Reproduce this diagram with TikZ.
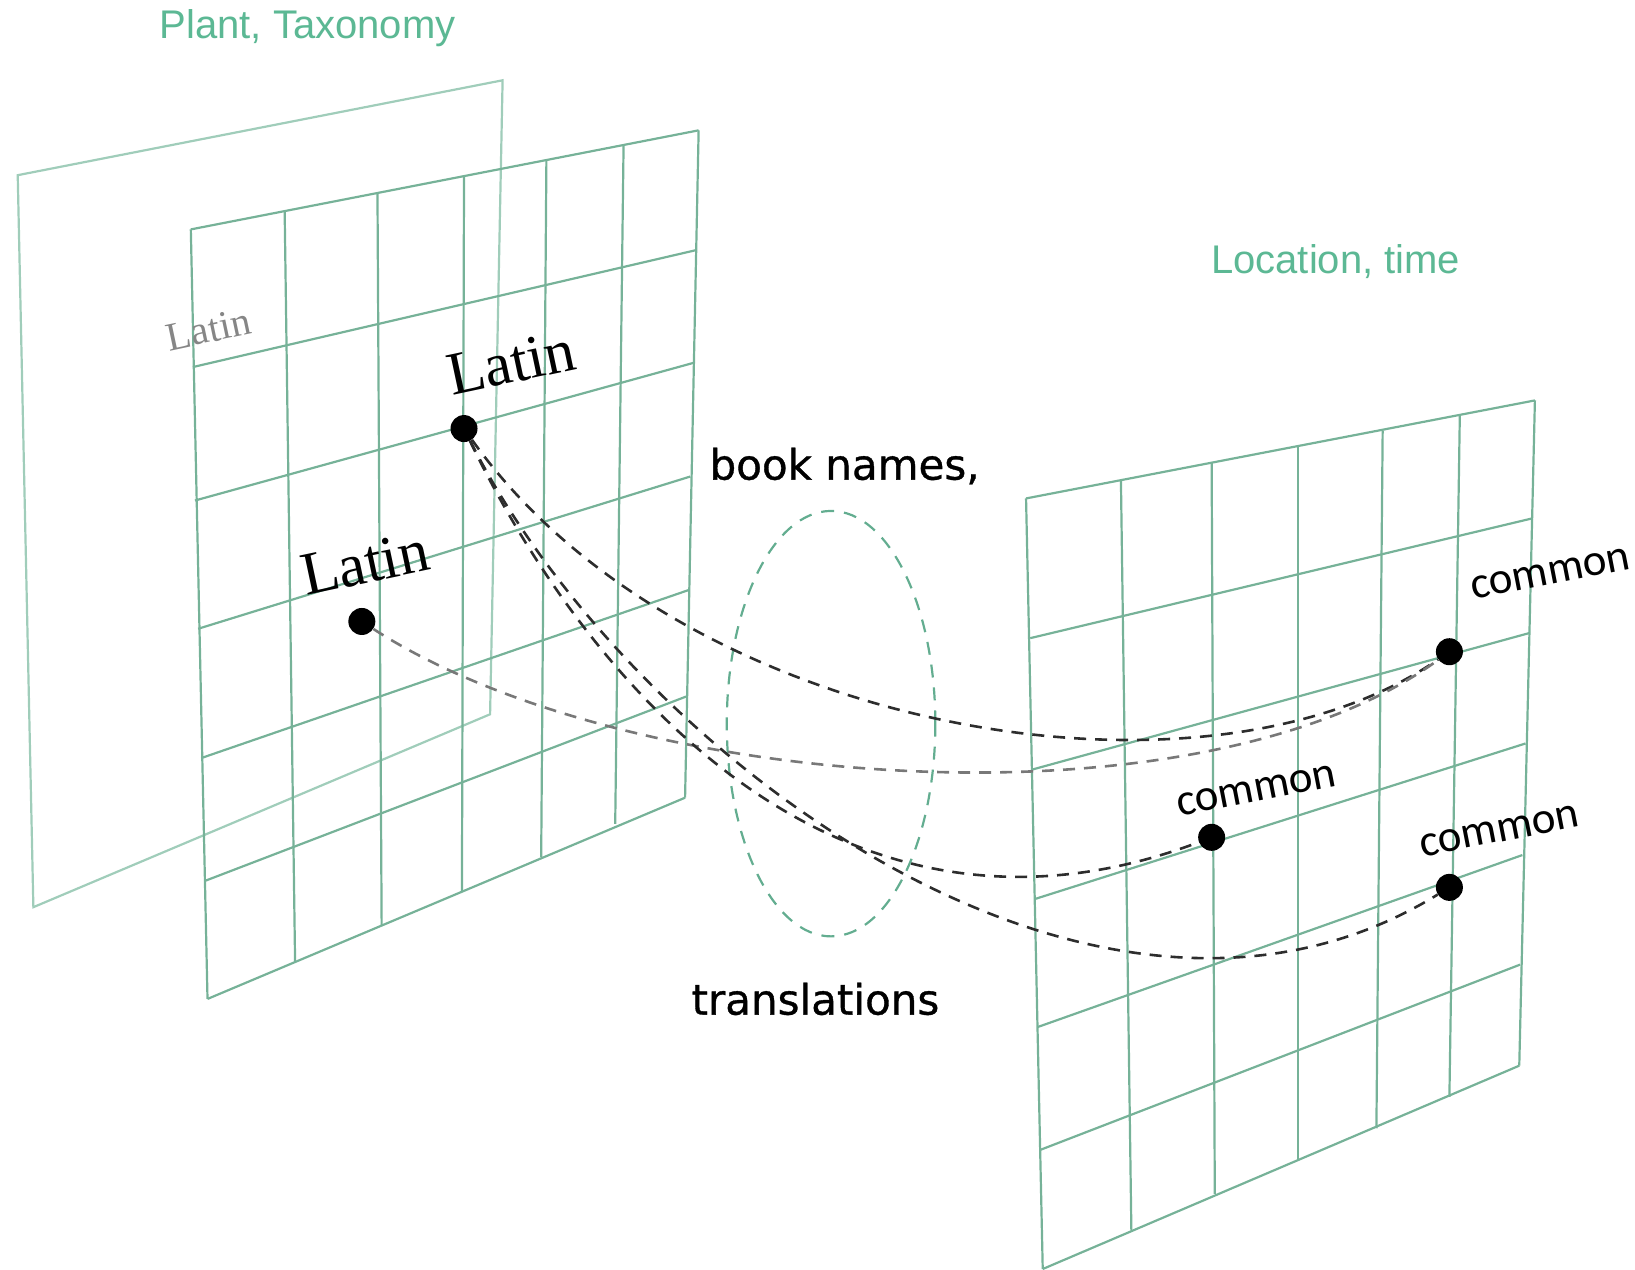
\documentclass[tikz,border=0pt]{standalone}
\usepackage{fontspec}
\setmainfont{Liberation Serif}
\newfontfamily\titlefont{Liberation Sans}
\newfontfamily\bookfont[FakeBold=0.8]{DejaVu Sans}
\newfontfamily\commonfont{Carlito}
\definecolor{gridgreen}{RGB}{118,178,152}
\definecolor{backgreen}{RGB}{160,205,186}
\definecolor{titlegreen}{RGB}{92,184,148}
\definecolor{curvegray}{RGB}{45,45,45}
\definecolor{palegray}{RGB}{120,120,120}
\begin{document}
\begin{tikzpicture}[x=1.0427pt, y=-1.0427pt,
    gridline/.style={draw=gridgreen,line width=2.2pt},
    backline/.style={draw=backgreen,line width=2.2pt},
    dot/.style={circle,fill=black,inner sep=0pt,minimum size=27pt},
    link/.style={draw=curvegray,line width=2.6pt,dash pattern=on 12pt off 9pt},
    palelink/.style={draw=palegray,line width=2.6pt,dash pattern=on 12pt off 9pt},
    title/.style={text=titlegreen,font=\titlefont\fontsize{40}{44}\selectfont},
    latin/.style={rotate=12,font=\fontsize{61}{66}\selectfont},
    common/.style={rotate=11,font=\commonfont\fontsize{45}{48}\selectfont},
    book/.style={font=\bookfont\fontsize{42}{46}\selectfont}]
  \useasboundingbox (0,0) rectangle (1568,1217);
  % back plane
  \draw[backline] (17,168) -- (482,77) -- (470,685) -- (32,870) -- cycle;
  % front plane
  \foreach \xa/\ya/\xb/\yb in {183/220/670/125, 185/352/667/240, 187/480/665/348, 190/603/662/457,
      193/727/660/566, 196/845/658/668, 199/958/657/765,
      183/220/199/958, 273/203/283/923, 362/185/366/888, 445/169/443/855,
      524/154/519/822, 598/140/590/790, 670/125/657/765}
    \draw[gridline] (\xa,\ya) -- (\xb,\yb);
  % location plane
  \foreach \xa/\ya/\xb/\yb in {984/478/1472/384, 988/612/1470/497, 990/738/1467/607, 993/862/1463/713,
      995/985/1460/820, 997/1103/1458/925, 1000/1217/1457/1022,
      984/478/1000/1217, 1075/461/1085/1180, 1162/444/1165/1145, 1245/428/1245/1113,
      1326/413/1320/1082, 1400/398/1390/1052, 1472/384/1457/1022}
    \draw[gridline] (\xa,\ya) -- (\xb,\yb);
  \draw[draw=titlegreen!80!gray,line width=2.2pt,dash pattern=on 13pt off 10pt] (797,694) ellipse [x radius=100, y radius=204];

  \node [title] (plant) at (295,27) {Plant, Taxonomy};
  \node [title] (loc) at (1281,251) {Location, time};
  \node [latin,text=palegray!90,font=\fontsize{40}{44}\selectfont] (ghost) at (200,316) {Latin};
  \node [latin] (latintop) at (490,348) {Latin};
  \node [latin] (latinlow) at (350,540) {Latin};
  \node [book] (names) at (810,447) {book names,};
  \node [book] (trans) at (782,958) {translations};
  \node [common] (comtop) at (1487,550) {common};
  \node [common] (commid) at (1205,758) {common};
  \node [common] (comlow) at (1438,797) {common};

  \node [dot] (la) at (445,411) {};
  \node [dot] (lb) at (347,596) {};
  \node [dot] (ca) at (1390,625) {};
  \node [dot] (cb) at (1162,803) {};
  \node [dot] (cc) at (1390,851) {};

  \draw[link] (la) .. controls (650,700) and (1150,790) .. (ca);
  \draw[palelink] (lb) .. controls (600,760) and (1150,800) .. (ca);
  \draw[link] (la) .. controls (560,650) and (800,940) .. (cb);
  \draw[link] (la) .. controls (600,720) and (1050,1060) .. (cc);
\end{tikzpicture}
\end{document}
